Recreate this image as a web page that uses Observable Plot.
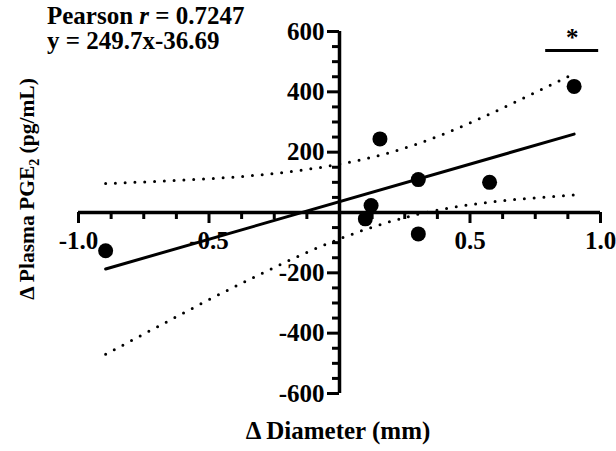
<!DOCTYPE html>
<html><head><meta charset="utf-8">
<script src="https://cdn.jsdelivr.net/npm/d3@7"></script>
<script src="https://cdn.jsdelivr.net/npm/@observablehq/plot@0.6"></script>
<style>
body{margin:0;background:#fff;}
#wrap{position:relative;width:616px;height:451px;font-family:"Liberation Serif","Times New Roman",serif;font-weight:bold;color:#000;}
#stats{position:absolute;left:47px;top:4px;font-size:25px;line-height:24.5px;white-space:nowrap;}
#ytitle{position:absolute;left:27px;top:189px;transform:translate(-50%,-50%) rotate(-90deg);font-size:21.5px;line-height:24px;white-space:nowrap;}
#xtitle{position:absolute;left:338px;top:419px;transform:translateX(-50%);font-size:25px;line-height:24px;white-space:nowrap;}
sub{font-size:0.65em;line-height:0;}
</style></head><body>
<div id="wrap">
<div id="stats">Pearson <i>r</i> = 0.7247<br>y = 249.7x-36.69</div>
<div id="ytitle">Δ Plasma PGE<sub>2</sub> (pg/mL)</div>
<div id="xtitle">Δ Diameter (mm)</div>
</div>
<script>
// data
const diameter = [-0.896, 0.099, 0.121, 0.155, 0.302, 0.302, 0.575, 0.899];
const pge2 = [-127, -21, 23, 244, 109, -71, 100, 418];
// 95% confidence band (dotted curves)
const ciX = [-0.896, -0.7, -0.5, -0.3, -0.1, 0.1, 0.3, 0.5, 0.7, 0.899];
const ciUpper = [96, 103, 112, 125, 146, 178, 228, 297, 377, 460];
const ciLower = [-470, -380, -289, -203, -123, -56, -6, 26, 45, 58];
// axis ticks
const xMajor = [-1, -0.5, 0.5, 1];
const xLabels = ["-1.0", "-0.5", "0.5", "1.0"];
const yMajor = [-600, -400, -200, 200, 400, 600];
const yLabels = ["-600", "-400", "-200", "200", "400", "600"];
// significance annotation
const sigX1 = [0.79];
const sigX2 = [0.993];
const sigY = [537];
const sigLabel = ["*"];

const points = diameter.map((x, i) => ({x, y: pge2[i]}));
const ci = ciX.map((x, i) => ({x, upper: ciUpper[i], lower: ciLower[i]}));
const xMinor = d3.range(-1, 1.0001, 0.125).filter(d => Math.abs(d) > 1e-9 && !xMajor.some(m => Math.abs(m - d) < 1e-9));
const yMinor = d3.range(-600, 601, 50).filter(d => d !== 0 && !yMajor.includes(d));
const sig = sigX1.map((x1, i) => ({x1, x2: sigX2[i], y: sigY[i], label: sigLabel[i]}));

const font = "'Liberation Serif','Times New Roman',serif";
const chart = Plot.plot({
  width: 616, height: 451,
  marginLeft: 78, marginRight: 16, marginTop: 31, marginBottom: 58,
  x: {domain: [-1, 1], axis: null},
  y: {domain: [-600, 600], axis: null},
  style: {fontFamily: font, background: "white", color: "black", overflow: "visible"},
  marks: [
    Plot.ruleY([0], {x1: -1, x2: 1, stroke: "black", strokeWidth: 3.5}),
    Plot.ruleX([0], {y1: -600, y2: 600, stroke: "black", strokeWidth: 3.5}),
    Plot.ruleX(xMajor, {x: d => d, y1: 0, y2: 0, insetBottom: -11, stroke: "black", strokeWidth: 3}),
    Plot.ruleX(xMinor, {x: d => d, y1: 0, y2: 0, insetBottom: -7, stroke: "black", strokeWidth: 3}),
    Plot.ruleY(yMajor, {y: d => d, x1: 0, x2: 0, insetLeft: -12, stroke: "black", strokeWidth: 3}),
    Plot.ruleY(yMinor, {y: d => d, x1: 0, x2: 0, insetLeft: -7, stroke: "black", strokeWidth: 3}),
    Plot.text(xMajor, {x: d => d, y: 0, text: (d, i) => xLabels[i], dy: 28, fontSize: 25, fontWeight: "bold", fill: "black"}),
    Plot.text(yMajor, {x: 0, y: d => d, text: (d, i) => yLabels[i], dx: -15, textAnchor: "end", fontSize: 25, fontWeight: "bold", fill: "black"}),
    Plot.line(ci, {x: "x", y: "upper", curve: "natural", stroke: "black", strokeWidth: 3, strokeDasharray: "0 9.8", strokeLinecap: "round"}),
    Plot.line(ci, {x: "x", y: "lower", curve: "natural", stroke: "black", strokeWidth: 3, strokeDasharray: "0 9.8", strokeLinecap: "round"}),
    Plot.linearRegressionY(points, {x: "x", y: "y", ci: 0, stroke: "black", strokeWidth: 3}),
    Plot.dot(points, {x: "x", y: "y", r: 7.5, fill: "black", stroke: "none"}),
    Plot.ruleY(sig, {x1: "x1", x2: "x2", y: "y", stroke: "black", strokeWidth: 3}),
    Plot.text(sig, {x: d => (d.x1 + d.x2) / 2, y: "y", text: "label", dy: -13, fontSize: 25, fontWeight: "bold", fill: "black"})
  ]
});
const wrap = document.getElementById("wrap");
wrap.insertBefore(chart, wrap.firstChild);
chart.style.position = "absolute";
chart.style.left = "0";
chart.style.top = "0";
</script>
</body></html>
